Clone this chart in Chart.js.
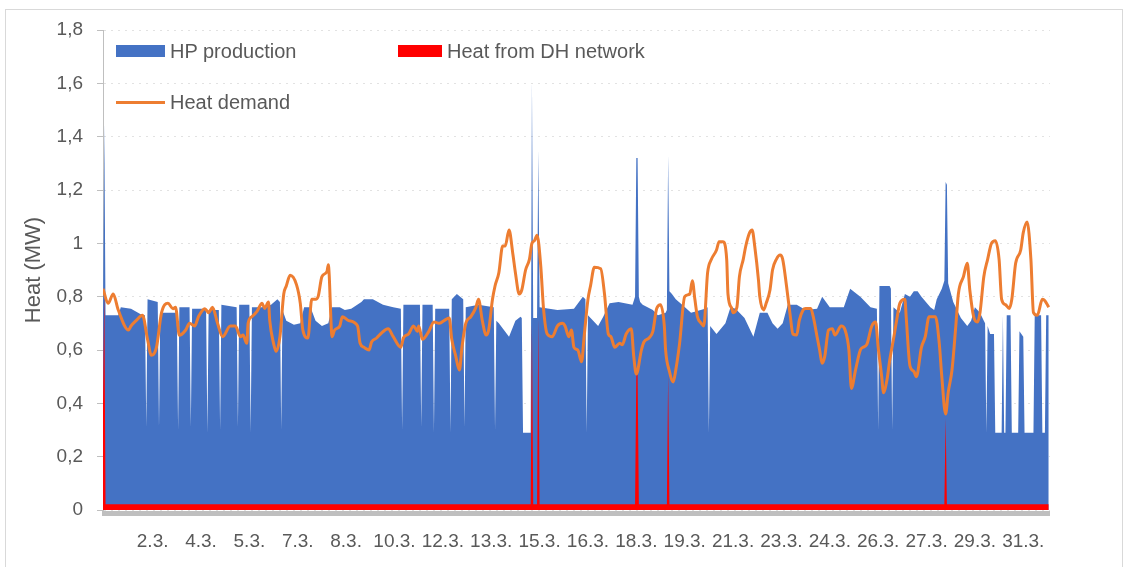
<!DOCTYPE html>
<html>
<head>
<meta charset="utf-8">
<title>Heat production March</title>
<script src="https://cdn.jsdelivr.net/npm/chart.js@4.4.1/dist/chart.umd.min.js"></script>
<style>
  body { margin: 0; background: #fff; }
  .wrap { position: relative; width: 1130px; height: 567px; overflow: hidden;
          font-family: 'Liberation Sans', Arial, sans-serif; color: #595959; }
  .frame { position: absolute; left: 5px; top: 9px; width: 1118px; height: 570px;
           border: 1px solid #d9d9d9; box-sizing: border-box; }
  canvas { position: absolute; left: 0; top: 0; }
  .legend-item { position: absolute; font-size: 20px; line-height: 22px; white-space: nowrap; }
  .swatch { position: absolute; }
</style>
</head>
<body>
<div class="wrap">
  <div class="frame"></div>
  <canvas id="chart" width="1130" height="567"></canvas>
  <div id="legend"></div>
</div>
<script>
// hour of the month -> MW
const hpProduction = [
  [0,0.73],[1,1.45],[2,0.73],[12,0.73],[14,0.76],[22,0.755],[31,0.73],[33,0.73],[34,0.31],[35,0.79],[43,0.78],
  [44,0.31],[45,0.74],[58,0.74],[59,0.30],[60,0.76],[68,0.76],[69,0.31],[70,0.755],[81,0.755],[82,0.29],
  [83,0.75],[91,0.75],[92,0.30],[93,0.77],[105,0.76],[106,0.31],[107,0.77],[115,0.77],[116,0.29],[117,0.76],
  [125,0.76],[132,0.77],[137,0.79],[139,0.78],[140,0.30],[141,0.75],[144,0.71],[150,0.695],[155,0.70],[158,0.76],
  [163,0.76],[167,0.71],[172,0.69],[177,0.70],[180,0.76],[186,0.76],[190,0.75],[195,0.755],[203,0.78],[205,0.79],
  [212,0.79],[220,0.77],[228,0.76],[234,0.755],[235,0.30],[236,0.77],[249,0.77],[250,0.31],[251,0.77],[259,0.77],
  [260,0.29],[261,0.755],[272,0.755],[273,0.29],[274,0.79],[278,0.81],[283,0.79],[284,0.31],[285,0.76],[295,0.77],
  [307,0.76],[308,0.30],[309,0.71],[311,0.70],[319,0.65],[324,0.71],[328,0.725],[329,0.72],[330,0.29],[336,0.29],
  [337,1.61],[338,0.72],[341,0.72],[342,1.35],[343,0.76],[357,0.75],[370,0.755],[377,0.80],[379,0.79],[380,0.29],
  [381,0.73],[389,0.69],[393,0.725],[398,0.775],[405,0.78],[416,0.77],[418,0.80],[419,1.32],[420,1.32],[421,0.80],
  [422,0.78],[424,0.77],[432,0.75],[436,0.73],[442,0.74],[443,0.75],[444,1.33],[445,0.82],[447,0.81],[450,0.79],
  [455,0.77],[462,0.74],[473,0.755],[475,0.76],[476,0.29],[477,0.69],[482,0.66],[489,0.70],[493,0.76],[497,0.755],
  [504,0.72],[511,0.65],[516,0.74],[522,0.74],[526,0.70],[530,0.68],[534,0.70],[538,0.77],[545,0.77],[552,0.75],
  [561,0.755],[565,0.80],[571,0.76],[582,0.76],[587,0.83],[595,0.80],[603,0.76],[608,0.755],[609,0.30],[610,0.84],
  [618,0.84],[619,0.83],[620,0.30],[621,0.76],[626,0.74],[630,0.81],[634,0.80],[637,0.82],[640,0.82],[643,0.80],
  [650,0.76],[653,0.75],[655,0.79],[659,0.83],[661,0.86],[662,1.23],[663,1.22],[664,0.85],[668,0.78],[674,0.72],
  [679,0.69],[682,0.71],[685,0.76],[689,0.74],[692,0.71],[693,0.70],[694,0.29],[695,0.69],[697,0.66],[700,0.66],
  [701,0.29],[706,0.29],[707,0.73],[708,0.29],[709,0.29],[710,0.73],[713,0.73],[714,0.29],[719,0.29],[720,0.67],
  [723,0.65],[724,0.29],[731,0.29],[732,0.73],[737,0.73],[738,0.29],[740,0.29],[741,0.73],[743,0.73]
];

const dhHeat = [
  [0,0.40],[1,0.82],[2,0.022],[336,0.022],[337,0.70],[338,0.022],[341,0.022],[342,0.72],[343,0.022],
  [418,0.022],[419,0.51],[420,0.51],[421,0.022],[443,0.022],[444,0.51],[445,0.022],
  [661,0.022],[662,0.345],[663,0.022],[743,0.022]
];

const heatDemand = [
  [0,0.83],[4,0.775],[8,0.81],[12,0.75],[20,0.675],[22,0.69],[26,0.71],[31,0.73],[35,0.64],[38,0.58],
  [42,0.61],[46,0.74],[51,0.775],[55,0.755],[57,0.76],[60,0.655],[65,0.675],[68,0.70],[72,0.69],[75,0.725],
  [80,0.755],[83,0.74],[86,0.76],[90,0.70],[94,0.65],[100,0.69],[104,0.69],[108,0.65],[110,0.656],[113,0.625],
  [114,0.70],[117,0.725],[121,0.745],[125,0.775],[127,0.756],[130,0.78],[131,0.71],[134,0.625],[136,0.595],[139,0.65],
  [142,0.81],[144,0.84],[147,0.88],[152,0.845],[155,0.775],[157,0.675],[161,0.645],[164,0.79],[167,0.79],[169,0.80],
  [172,0.875],[176,0.895],[177,0.92],[180,0.65],[182,0.675],[186,0.69],[188,0.725],[193,0.71],[200,0.69],[202,0.625],
  [205,0.61],[209,0.60],[211,0.63],[215,0.645],[218,0.66],[224,0.68],[228,0.65],[234,0.61],[236,0.645],[240,0.66],
  [244,0.69],[247,0.67],[248,0.69],[251,0.64],[256,0.67],[260,0.705],[264,0.70],[268,0.71],[272,0.72],[274,0.64],
  [277,0.58],[280,0.525],[282,0.61],[285,0.70],[289,0.725],[293,0.76],[295,0.79],[298,0.71],[301,0.656],[303,0.675],
  [306,0.79],[308,0.84],[311,0.89],[314,0.99],[316,0.99],[319,1.05],[322,0.96],[324,0.89],[327,0.81],[329,0.825],
  [332,0.90],[335,0.94],[337,1.0],[339,1.01],[341,1.03],[344,0.91],[346,0.76],[349,0.66],[353,0.65],[357,0.69],
  [361,0.70],[363,0.69],[366,0.65],[368,0.675],[370,0.61],[373,0.60],[376,0.556],[378,0.65],[381,0.79],[383,0.84],
  [386,0.91],[391,0.905],[394,0.81],[397,0.66],[399,0.65],[402,0.61],[406,0.625],[408,0.62],[411,0.66],[415,0.68],
  [417,0.575],[419,0.51],[423,0.60],[425,0.63],[429,0.645],[432,0.67],[435,0.756],[438,0.77],[441,0.69],[442,0.60],
  [445,0.52],[448,0.48],[450,0.525],[453,0.625],[457,0.80],[461,0.81],[463,0.86],[465,0.79],[467,0.725],[470,0.70],
  [472,0.69],[475,0.89],[478,0.94],[482,0.975],[484,1.006],[487,1.006],[490,0.94],[491,0.81],[494,0.756],[495,0.74],
  [498,0.76],[500,0.875],[503,0.94],[505,0.99],[508,1.04],[510,1.05],[512,0.99],[515,0.86],[516,0.80],[519,0.75],
  [521,0.775],[524,0.825],[526,0.90],[529,0.94],[532,0.956],[534,0.94],[537,0.84],[540,0.725],[542,0.66],[545,0.656],
  [547,0.71],[550,0.75],[552,0.756],[556,0.756],[558,0.725],[561,0.65],[563,0.60],[565,0.55],[567,0.575],[570,0.675],
  [573,0.68],[575,0.656],[580,0.69],[583,0.675],[586,0.60],[588,0.456],[591,0.52],[595,0.60],[597,0.61],[600,0.62],
  [604,0.69],[607,0.705],[609,0.61],[612,0.49],[613,0.44],[616,0.49],[618,0.56],[621,0.64],[624,0.725],[626,0.775],
  [630,0.79],[631,0.725],[634,0.54],[637,0.52],[639,0.50],[643,0.61],[646,0.65],[649,0.725],[654,0.725],[657,0.625],
  [659,0.50],[662,0.36],[664,0.44],[667,0.525],[670,0.69],[672,0.81],[676,0.875],[679,0.925],[681,0.825],[684,0.725],
  [687,0.705],[689,0.74],[692,0.875],[695,0.94],[698,1.0],[701,1.01],[704,0.94],[706,0.79],[709,0.77],[712,0.756],
  [714,0.79],[717,0.925],[721,0.975],[723,1.04],[726,1.08],[729,0.94],[731,0.74],[734,0.73],[738,0.79],[740,0.785],
  [743,0.76]
];

const tickHours = [39, 77, 115, 153, 191, 229, 267, 305, 343, 381, 419, 457, 495, 533, 571, 609, 647, 685, 723];
const tickLabels = ['2.3.', '4.3.', '5.3.', '7.3.', '8.3.', '10.3.', '12.3.', '13.3.', '15.3.', '16.3.',
                    '18.3.', '19.3.', '21.3.', '23.3.', '24.3.', '26.3.', '27.3.', '29.3.', '31.3.'];

const textColor = '#595959';
Chart.defaults.font.family = "'Liberation Sans', Arial, sans-serif";

const toPoints = list => list.map(p => ({ x: p[0], y: p[1] }));

// thick grey category axis line under the plot
const axisBand = {
  id: 'axisBand',
  afterDatasetsDraw(chart) {
    const { ctx, chartArea } = chart;
    ctx.save();
    ctx.fillStyle = '#bfbfbf';
    ctx.fillRect(chartArea.left - 1, chartArea.bottom + 1, chartArea.width + 1, 5);
    ctx.restore();
  }
};

const ctx = document.getElementById('chart').getContext('2d');
const chart = new Chart(ctx, {
  type: 'line',
  data: {
    datasets: [
      {
        label: 'Heat demand',
        data: toPoints(heatDemand),
        borderColor: '#ED7D31',
        borderWidth: 3,
        cubicInterpolationMode: 'monotone',
        borderJoinStyle: 'round',
        fill: false,
        pointRadius: 0,
        order: 1
      },
      {
        label: 'Heat from DH network',
        data: toPoints(dhHeat),
        borderColor: 'rgba(0,0,0,0)',
        backgroundColor: '#FF0000',
        borderWidth: 0,
        fill: 'origin',
        pointRadius: 0,
        order: 2
      },
      {
        label: 'HP production',
        data: toPoints(hpProduction),
        borderColor: 'rgba(0,0,0,0)',
        backgroundColor: '#4472C4',
        borderWidth: 0,
        fill: 'origin',
        pointRadius: 0,
        order: 3
      }
    ]
  },
  options: {
    responsive: false,
    animation: false,
    layout: { padding: { top: 30, right: 80, left: 0, bottom: 0 } },
    plugins: { legend: { display: false }, tooltip: { enabled: false } },
    scales: {
      x: {
        type: 'linear',
        min: 0,
        max: 744,
        afterBuildTicks: scale => { scale.ticks = tickHours.map(v => ({ value: v })); },
        afterFit: scale => { scale.height = 57; },
        grid: { display: false },
        border: { display: false },
        ticks: {
          autoSkip: false,
          maxRotation: 0,
          minRotation: 0,
          padding: 12,
          color: textColor,
          font: { size: 19 },
          callback: (value, index) => tickLabels[index]
        }
      },
      y: {
        min: 0,
        max: 1.8,
        afterFit: scale => { scale.width = 103; },
        ticks: {
          stepSize: 0.2,
          padding: 14,
          color: textColor,
          font: { size: 19 },
          callback: v => Number(v.toFixed(1)).toString().replace('.', ',')
        },
        grid: { color: '#e2e2e2', tickColor: '#bfbfbf', tickLength: 6, tickBorderDash: [] },
        border: { color: '#bfbfbf', width: 1, dash: [2, 5] },
        title: {
          display: true,
          text: 'Heat (MW)',
          color: textColor,
          font: { size: 22 },
          padding: { top: 21, bottom: 0 }
        }
      }
    }
  },
  plugins: [axisBand]
});

// legend sits inside the plot, two rows like the original
const legendSpots = [
  { label: 'HP production', kind: 'box', left: 116, top: 45, width: 49 },
  { label: 'Heat from DH network', kind: 'box', left: 398, top: 45, width: 44 },
  { label: 'Heat demand', kind: 'line', left: 116, top: 101, width: 49 }
];
const legend = document.getElementById('legend');
legendSpots.forEach(spot => {
  const ds = chart.data.datasets.find(d => d.label === spot.label);
  const sw = document.createElement('div');
  sw.className = 'swatch';
  if (spot.kind === 'box') {
    sw.style.cssText = `left:${spot.left}px;top:${spot.top}px;width:${spot.width}px;height:12px;background:${ds.backgroundColor}`;
  } else {
    sw.style.cssText = `left:${spot.left}px;top:${spot.top}px;width:${spot.width}px;height:3px;background:${ds.borderColor}`;
  }
  legend.appendChild(sw);
  const txt = document.createElement('div');
  txt.className = 'legend-item';
  txt.textContent = spot.label;
  const mid = spot.kind === 'box' ? spot.top + 6 : spot.top + 1;
  txt.style.left = (spot.left + spot.width + 5) + 'px';
  txt.style.top = (mid - 11) + 'px';
  legend.appendChild(txt);
});
</script>
</body>
</html>
